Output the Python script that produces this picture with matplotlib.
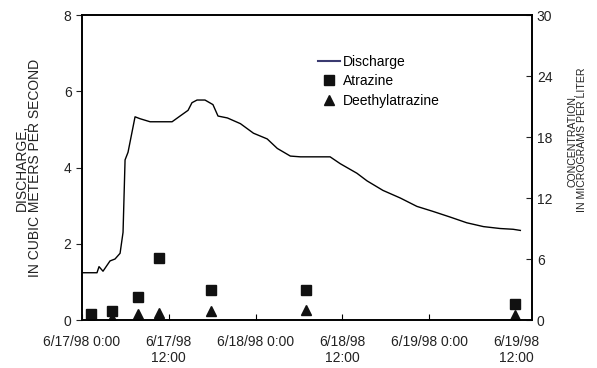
import matplotlib
matplotlib.use("Agg")
import matplotlib.pyplot as plt
from matplotlib.lines import Line2D

plt.rcParams['font.family'] = ['Liberation Sans', 'DejaVu Sans']
plt.rcParams['font.size'] = 10

# hours since 6/17/98 0:00
q_hours = [0, 2.07, 2.35, 2.9, 3.87, 4.56, 5.26, 5.67, 5.95, 6.36, 7.33, 8.02,
           9.41, 12.45, 13.55, 14.66, 15.2, 15.9, 17.0, 18.1, 18.8, 20.1, 21.9,
           23.7, 25.6, 27.0, 28.8, 30.2, 34.3, 35.7, 38.0, 39.4, 41.6, 44.0,
           46.3, 48.5, 50.9, 53.2, 55.5, 57.8, 59.6, 60.6]
discharge = [1.24, 1.24, 1.4, 1.28, 1.55, 1.6, 1.75, 2.3, 4.2, 4.4, 5.33, 5.28,
             5.2, 5.2, 5.35, 5.5, 5.7, 5.77, 5.77, 5.65, 5.35, 5.3, 5.15,
             4.9, 4.75, 4.5, 4.3, 4.28, 4.28, 4.1, 3.85, 3.65, 3.4, 3.2,
             2.98, 2.85, 2.7, 2.55, 2.45, 2.4, 2.38, 2.35]

sample_hours = [1.2, 4.1, 7.7, 10.7, 17.8, 31.0, 59.8]
atrazine = [0.6, 0.9, 2.3, 6.1, 3.0, 3.0, 1.6]
deethylatrazine = [0.1, 0.2, 0.6, 0.7, 0.9, 0.95, 0.5]

tick_hours = [0, 12, 24, 36, 48, 60]
tick_labels = ['6/17/98 0:00', '6/17/98\n12:00', '6/18/98 0:00',
               '6/18/98\n12:00', '6/19/98 0:00', '6/19/98\n12:00']

fig = plt.figure(figsize=(5.97, 3.68), dpi=100)
ax = fig.add_axes([0.1374, 0.1304, 0.7536, 0.8288])
ax2 = ax.twinx()

ax.plot(q_hours, discharge, color='black', lw=1.0)
ax2.plot(sample_hours, atrazine, 's', color='#111111', ms=7.5, ls='none')
ax2.plot(sample_hours, deethylatrazine, '^', color='#111111', ms=7.5, ls='none')

ax.set_xlim(0, 62.2)
ax.set_ylim(0, 8)
ax.set_yticks([0, 2, 4, 6, 8])
ax2.set_ylim(0, 30)
ax2.set_yticks([0, 6, 12, 18, 24, 30])
ax.set_xticks(tick_hours)
ax.set_xticklabels(tick_labels, color='#222222')

ax.tick_params(axis='x', direction='in', length=4, pad=11)
ax.tick_params(axis='y', direction='out', length=4, colors='#222222')
ax2.tick_params(axis='y', direction='in', length=4, colors='#222222')
for a in (ax, ax2):
    for s in a.spines.values():
        s.set_linewidth(1.2)
        s.set_color('black')

ax.set_ylabel('DISCHARGE,\nIN CUBIC METERS PER SECOND', color='#222222',
              linespacing=0.9, labelpad=16)
# right-hand axis title sits a little above the axis middle
fig.text(577 / 597, 1 - 140 / 368, 'CONCENTRATION,\nIN MICROGRAMS PER LITER',
         rotation=90, ha='center', va='center', multialignment='center',
         fontsize=7.6, linespacing=0.95, color='#222222')

handles = [Line2D([], [], color='#3a3a70', lw=1.5),
           Line2D([], [], marker='s', color='#111111', ls='none', ms=7),
           Line2D([], [], marker='^', color='#111111', ls='none', ms=7)]
ax.legend(handles, ['Discharge', 'Atrazine', 'Deethylatrazine'],
          loc='upper left', bbox_to_anchor=(0.524, 0.87), frameon=False,
          borderpad=0, borderaxespad=0, handlelength=1.6, handletextpad=0.2,
          labelspacing=0.4, fontsize=10)

fig.savefig('out.png', dpi=100)
